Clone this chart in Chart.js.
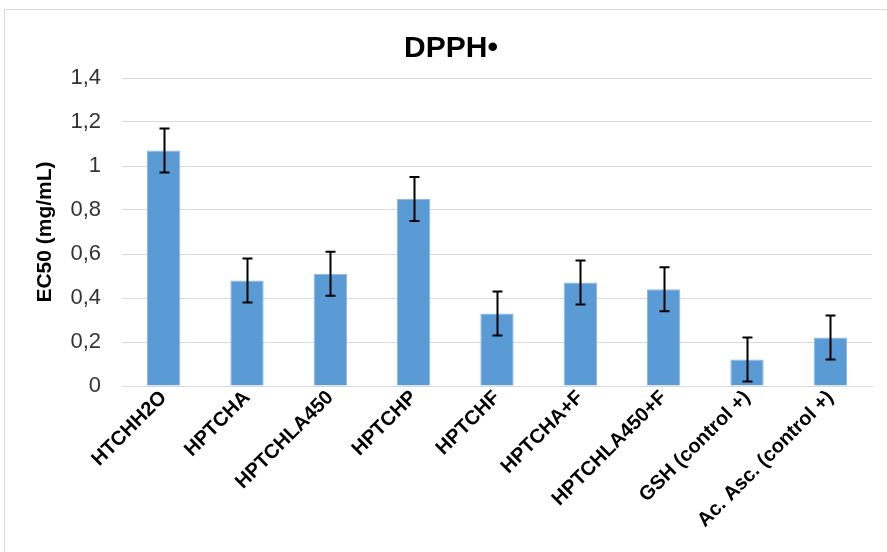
<!DOCTYPE html>
<html>
<head>
<meta charset="utf-8">
<script src="https://cdn.jsdelivr.net/npm/chart.js@4/dist/chart.umd.min.js"></script>
<style>
  html, body { margin: 0; padding: 0; background: #fff; overflow: hidden; }
  #frame { position: absolute; left: 4px; top: 9px; width: 1000px; height: 1000px; border: 1px solid #d9d9d9; box-sizing: border-box; }
  #wrap { position: absolute; left: 0; top: 0; width: 887px; height: 552px; }
</style>
</head>
<body>
<div id="frame"></div>
<div id="wrap"><canvas id="chart"></canvas></div>
<script>
// Samples and their DPPH• EC50 values (mg/mL) with standard deviations
const categories = ['HTCHH2O', 'HPTCHA', 'HPTCHLA450', 'HPTCHP', 'HPTCHF', 'HPTCHA+F', 'HPTCHLA450+F', 'GSH (control +)', 'Ac. Asc. (control +)'];
const ec50Values = [1.07, 0.48, 0.51, 0.85, 0.33, 0.47, 0.44, 0.12, 0.22];
const ec50Errors = [0.10, 0.10, 0.10, 0.10, 0.10, 0.10, 0.10, 0.10, 0.10];
const yTicks = [0, 0.2, 0.4, 0.6, 0.8, 1, 1.2, 1.4];

const FONT = '"Liberation Sans", Arial, sans-serif';

// Draws a vertical error bar with caps over each bar
const errorBars = {
  id: 'errorBars',
  afterDatasetsDraw(chart) {
    const { ctx, scales: { y } } = chart;
    const meta = chart.getDatasetMeta(0);
    ctx.save();
    ctx.strokeStyle = '#000';
    ctx.lineWidth = 2;
    meta.data.forEach((bar, i) => {
      const v = ec50Values[i], e = ec50Errors[i];
      const top = y.getPixelForValue(v + e);
      const bot = y.getPixelForValue(v - e);
      const x = Math.round(bar.x) + 0.5;
      const cap = 5;
      ctx.beginPath();
      ctx.moveTo(x, top); ctx.lineTo(x, bot);
      ctx.moveTo(x - cap, top); ctx.lineTo(x + cap, top);
      ctx.moveTo(x - cap, bot); ctx.lineTo(x + cap, bot);
      ctx.stroke();
    });
    ctx.restore();
  }
};

new Chart(document.getElementById('chart'), {
  type: 'bar',
  data: {
    labels: categories,
    datasets: [{
      data: ec50Values,
      backgroundColor: '#5B9BD5',
      borderColor: '#8DB8E4',
      borderWidth: 1,
      categoryPercentage: 1,
      barPercentage: 0.4
    }]
  },
  options: {
    responsive: true,
    maintainAspectRatio: false,
    animation: false,
    layout: { padding: { left: 30, right: 15, top: 20, bottom: 0 } },
    plugins: {
      legend: { display: false },
      tooltip: { enabled: false },
      title: {
        display: true,
        text: 'DPPH•',
        color: '#000',
        font: { family: FONT, size: 30, weight: 'bold' },
        padding: { top: 11, bottom: 11 }
      }
    },
    scales: {
      y: {
        min: 0, max: 1.4,
        afterBuildTicks(scale) { scale.ticks = yTicks.map(v => ({ value: v })); },
        afterFit(scale) { scale.width = 92; },
        grid: { color: '#d9d9d9', lineWidth: 1, drawTicks: false },
        border: { display: false },
        ticks: {
          padding: 21,
          color: '#333',
          font: { family: FONT, size: 22 },
          callback: v => String(Math.round(v * 10) / 10).replace('.', ',')
        },
        title: {
          display: true,
          text: 'EC50 (mg/mL)',
          color: '#000',
          font: { family: FONT, size: 21, weight: 'bold' },
          padding: { top: 3, bottom: 0 }
        }
      },
      x: {
        afterFit(scale) { scale.height = 166; },
        grid: { display: false, drawTicks: false },
        border: { display: true, color: '#d9d9d9', width: 1 },
        ticks: {
          minRotation: 45, maxRotation: 45,
          autoSkip: false,
          padding: 0,
          color: '#000',
          font: { family: FONT, size: 20, weight: 'bold' }
        }
      }
    }
  },
  plugins: [errorBars]
});
</script>
</body>
</html>
